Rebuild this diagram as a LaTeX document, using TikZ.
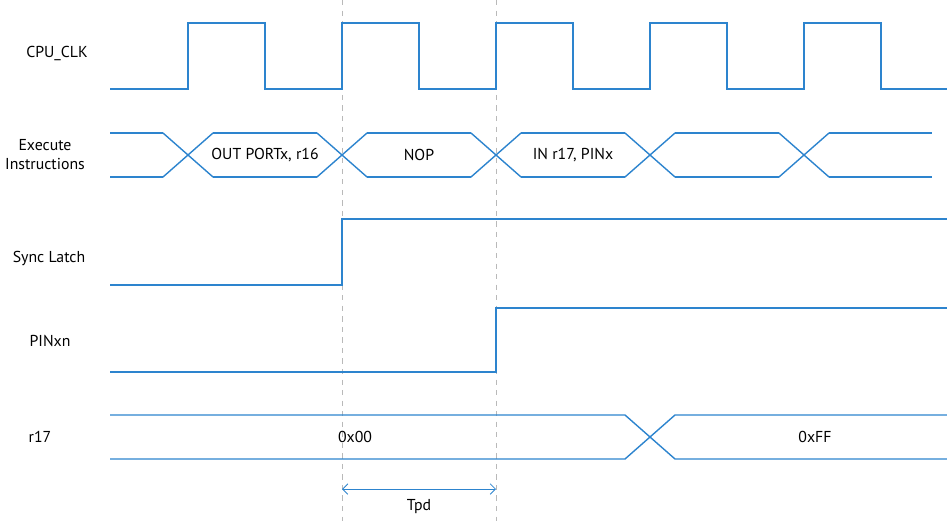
\documentclass[tikz,border=0pt]{standalone}
\usepackage{fontspec}
\setmainfont{PT Sans}
\usetikzlibrary{calc, positioning, arrows.meta}
\definecolor{sigblue}{RGB}{45,132,206}

\begin{document}
\begin{tikzpicture}[x=0.02cm, y=-0.02cm,
  wave/.style={sigblue, line width=0.8pt},
  guide/.style={gray!55, dashed, line width=0.4pt},
  lbl/.style={font=\fontsize{9}{10.8}\selectfont, align=center, inner sep=1pt}]
\useasboundingbox (0,0) rectangle (947,521);

% Timing guides
\draw[guide] (342,0) -- (342,521);
\draw[guide] (496,0) -- (496,521);

% CPU clock
\node[lbl] (clk) at (57,53) {CPU\_CLK};
\draw[wave] (110,89) \foreach \x in {188,342,496,650,804} {
  -- (\x,89) -- (\x,23) -- (\x+77,23) -- (\x+77,89) } -- (947,89);

% Executed instructions
\node[lbl] (exec) at (45,155) {Execute\\Instructions};
\foreach \c in {188,342,496,650,804} {
  \draw[wave] (\c-25,133) -- (\c+25,177);
  \draw[wave] (\c-25,177) -- (\c+25,133);
}
\foreach \a/\b in {110/163, 213/317, 367/471, 521/625, 675/779, 829/932} {
  \draw[wave] (\a,133) -- (\b,133);
  \draw[wave] (\a,177) -- (\b,177);
}
\node[lbl] (out) at (265,155) {OUT PORTx, r16};
\node[lbl] (nop) at (419,155) {NOP};
\node[lbl] (in) at (573,155) {IN r17, PINx};

% Sync latch
\node[lbl] (sync) at (49,258) {Sync Latch};
\draw[wave] (110,285) -- (342,285) -- (342,219) -- (947,219);

% PINxn
\node[lbl] (pin) at (50,341) {PINxn};
\draw[wave] (110,372) -- (496,372) -- (496,308) -- (947,308);

% r17 register
\node[lbl] (reg) at (40,437) {r17};
\draw[wave] (110,415) -- (625,415) -- (675,459) -- (947,459);
\draw[wave] (110,459) -- (625,459) -- (675,415) -- (947,415);
\node[lbl] (v0) at (355,437) {0x00};
\node[lbl] (vf) at (815,437) {0xFF};

% Propagation delay
\coordinate (ta) at (342,489);
\coordinate (tb) at (496,489);
\draw[sigblue, line width=0.5pt, {Straight Barb[length=3pt]}-{Straight Barb[length=3pt]}] (ta) -- (tb);
\node[lbl] (tpd) at (419,507) {Tpd};
\end{tikzpicture}
\end{document}
